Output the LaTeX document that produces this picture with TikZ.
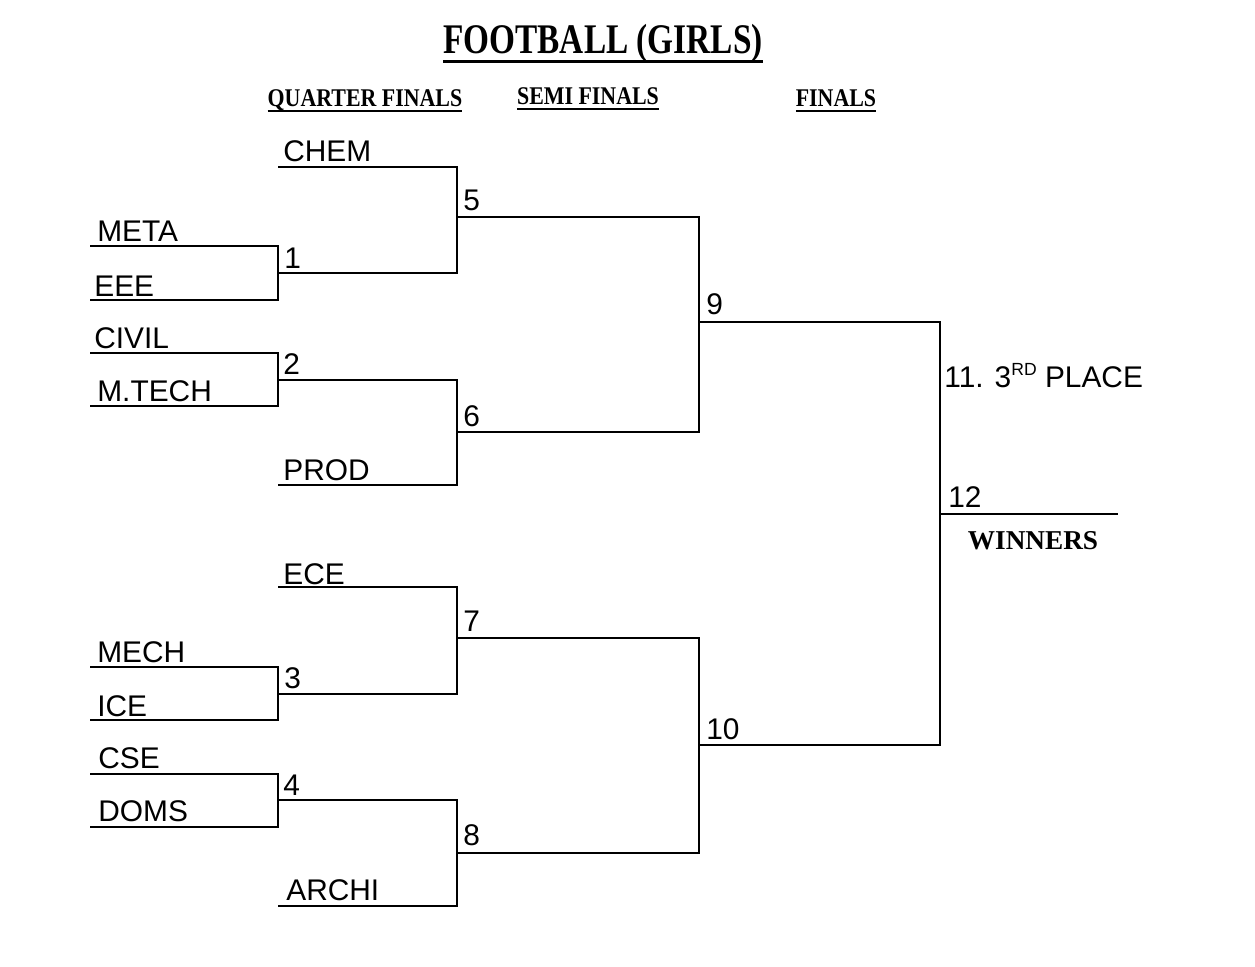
\documentclass[tikz,border=0pt]{standalone}
\usepackage{fontspec}
\setmainfont{Liberation Serif}
\newfontfamily\arialfont{Liberation Sans}
\usepackage{tikz}
\usetikzlibrary{positioning}

% text with a thick rule under it
\newcommand{\ulbar}[2]{\setbox0=\hbox{#2}\rlap{\copy0}\rule[#1]{\wd0}{1.3pt}}

\begin{document}
\begin{tikzpicture}[
    x=0.02cm, y=-0.02cm,
    bracket/.style={
        line width=1.1pt
    },
    team/.style={
        anchor=base west,
        inner sep=0pt,
        font=\arialfont\fontsize{17}{20}\selectfont
    },
    score/.style={
        team
    },
    head/.style={
        anchor=base,
        inner sep=0pt,
        font=\bfseries\fontsize{14.5}{16}\selectfont
    }
]
\useasboundingbox[fill=white] (0,0) rectangle (1255,967);

% headings
\node[head, font=\bfseries\fontsize{24}{26}\selectfont] (title) at (603,53)
    {\scalebox{0.79}[1]{\ulbar{-5.5pt}{FOOTBALL (GIRLS)}}};
\node[head] (qf) at (365,106) {\scalebox{0.86}[1]{\ulbar{-3.3pt}{QUARTER FINALS}}};
\node[head] (sf) at (588,104) {\scalebox{0.86}[1]{\ulbar{-3.3pt}{SEMI FINALS}}};
\node[head] (fi) at (836,106) {\scalebox{0.86}[1]{\ulbar{-3.3pt}{FINALS}}};

% slot ends
\coordinate (chem) at (278,167);
\coordinate (meta) at (90,246);
\coordinate (eee) at (90,300);
\coordinate (civil) at (90,353);
\coordinate (mtech) at (90,406);
\coordinate (prod) at (278,485);
\coordinate (ece) at (278,587);
\coordinate (mech) at (90,667);
\coordinate (ice) at (90,720);
\coordinate (cse) at (90,774);
\coordinate (doms) at (90,827);
\coordinate (archi) at (278,906);

% match points
\coordinate (m1) at (278,273);
\coordinate (m2) at (278,380);
\coordinate (m3) at (278,694);
\coordinate (m4) at (278,800);
\coordinate (m5) at (457,217);
\coordinate (m6) at (457,432);
\coordinate (m7) at (457,638);
\coordinate (m8) at (457,853);
\coordinate (m9) at (699,322);
\coordinate (m10) at (699,745);
\coordinate (m12) at (940,514);
\coordinate (win) at (1118,514);

% team names
\node[team] (chemL) at (283,161) {CHEM};
\node[team] (metaL) at (97,241) {META};
\node[team] (eeeL) at (94,296) {EEE};
\node[team] (civilL) at (94,348) {CIVIL};
\node[team] (mtechL) at (97,401) {M.TECH};
\node[team] (prodL) at (283,480) {PROD};
\node[team] (eceL) at (283,584) {ECE};
\node[team] (mechL) at (97,662) {MECH};
\node[team] (iceL) at (97,716) {ICE};
\node[team] (cseL) at (98,768) {CSE};
\node[team] (domsL) at (98,821) {DOMS};
\node[team] (archiL) at (286,900) {ARCHI};

% match numbers
\node[score] (n1) at (284,268) {1};
\node[score] (n2) at (283,374) {2};
\node[score] (n3) at (284,688) {3};
\node[score] (n4) at (283,795) {4};
\node[score] (n5) at (463,210) {5};
\node[score] (n6) at (463,426) {6};
\node[score] (n7) at (463,631) {7};
\node[score] (n8) at (463,845) {8};
\node[score] (n9) at (706,314) {9};
\node[score] (n10) at (706,739) {10};
\node[score] (n11) at (944,387) {11. 3\raisebox{6.5pt}{\fontsize{10}{10}\selectfont RD} PLACE};
\node[score] (n12) at (948,507) {12};
\node[head, font=\bfseries\fontsize{15.5}{17}\selectfont] (winL) at (1033,549) {WINNERS};

% quarter finals
\draw[bracket] (meta) -| (m1) |- (eee);
\draw[bracket] (civil) -| (m2) |- (mtech);
\draw[bracket] (mech) -| (m3) |- (ice);
\draw[bracket] (cse) -| (m4) |- (doms);

% semi finals
\draw[bracket] (chem) -| (m5) |- (m1);
\draw[bracket] (prod) -| (m6) |- (m2);
\draw[bracket] (ece) -| (m7) |- (m3);
\draw[bracket] (archi) -| (m8) |- (m4);

% finals
\draw[bracket] (m5) -| (m9) |- (m6);
\draw[bracket] (m7) -| (m10) |- (m8);
\draw[bracket] (m9) -| (m12) |- (m10);
\draw[bracket] (m12) -- (win);

\end{tikzpicture}
\end{document}
